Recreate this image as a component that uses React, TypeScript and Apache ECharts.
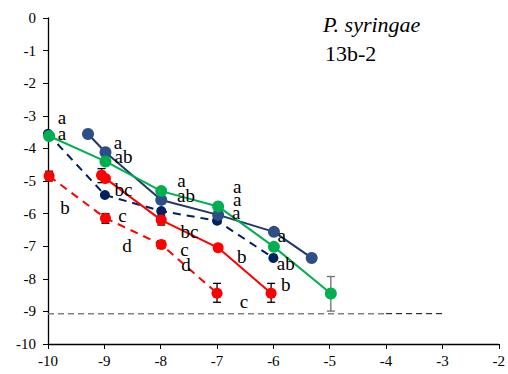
import React, { useEffect, useRef } from "react";
import * as echarts from "echarts";

const navySolid: [number, number][] = [[-9.29, -3.56], [-8.98, -4.12], [-7.99, -5.58], [-6.98, -6.04], [-5.99, -6.56], [-5.32, -7.36]];
const navyDashed: [number, number][] = [[-10, -3.55], [-8.99, -5.43], [-7.99, -5.92], [-7.0, -6.22], [-6.0, -7.36]];
const greenSolid: [number, number][] = [[-9.98, -3.62], [-8.98, -4.4], [-7.99, -5.31], [-6.98, -5.78], [-5.99, -7.02], [-4.98, -8.45]];
const redSolid: [number, number][] = [[-9.05, -4.82], [-8.98, -4.92], [-7.99, -6.2], [-6.98, -7.05], [-6.04, -8.44]];
const redDashed: [number, number][] = [[-9.98, -4.85], [-8.98, -6.14], [-7.99, -6.95], [-7.0, -8.44]];
const detectionLimitGray: [number, number][] = [[-10, -9.07], [-4, -9.07]];
const detectionLimitBlack: [number, number][] = [[-4, -9.07], [-3, -9.07]];

// [x, low, high]
const redErr: [number, number, number][] = [
  [-9.98, -5.0, -4.7], [-8.98, -6.3, -6.0], [-7.99, -7.07, -6.83], [-7.0, -8.72, -8.14],
  [-9.05, -5.05, -4.62], [-7.99, -6.35, -6.05], [-6.98, -7.15, -6.95], [-6.04, -8.72, -8.14],
];
const greenErr: [number, number, number][] = [[-4.98, -8.99, -7.93]];

// [x, y, letter]
const letters: [number, number, string][] = [
  [-9.75, -3.04, "a"], [-9.75, -3.53, "a"], [-9.7, -5.8, "b"],
  [-8.76, -3.83, "a"], [-8.66, -4.26, "ab"], [-8.66, -5.25, "bc"], [-8.68, -6.07, "c"], [-8.6, -6.99, "d"],
  [-7.63, -4.97, "a"], [-7.55, -5.43, "ab"], [-7.49, -6.56, "bc"], [-7.58, -7.09, "c"], [-7.55, -7.55, "d"],
  [-6.64, -5.18, "a"], [-6.64, -5.58, "a"], [-6.66, -5.98, "a"], [-6.56, -7.33, "b"], [-6.52, -8.71, "c"],
  [-5.85, -6.66, "a"], [-5.78, -7.52, "ab"], [-5.78, -8.19, "b"],
];

const xTicks = [-10, -9, -8, -7, -6, -5, -4, -3, -2];
const titleLines = ["P. syringae", "13b-2"];

const FONT = "'Liberation Serif', 'Times New Roman', serif";

function errSeries(data: [number, number, number][], color: string) {
  return {
    type: "custom",
    data,
    z: 1,
    silent: true,
    renderItem: (_p: any, api: any) => {
      const x = api.value(0);
      const lo = api.coord([x, api.value(1)]);
      const hi = api.coord([x, api.value(2)]);
      const w = 4;
      const style = { stroke: color, lineWidth: 1.3 };
      return {
        type: "group",
        children: [
          { type: "line", shape: { x1: lo[0], y1: lo[1], x2: hi[0], y2: hi[1] }, style },
          { type: "line", shape: { x1: lo[0] - w, y1: lo[1], x2: lo[0] + w, y2: lo[1] }, style },
          { type: "line", shape: { x1: hi[0] - w, y1: hi[1], x2: hi[0] + w, y2: hi[1] }, style },
        ],
      };
    },
  };
}

function lineSeries(data: [number, number][], line: string, marker: string, dashed: boolean, size: number) {
  return {
    type: "line",
    data,
    z: 3,
    symbol: "circle",
    symbolSize: size,
    lineStyle: { color: line, width: 2, type: dashed ? [8, 6] : "solid" },
    itemStyle: { color: marker, borderWidth: 0 },
  };
}

export default function App() {
  const ref = useRef<HTMLDivElement>(null);
  useEffect(() => {
    document.body.style.margin = "0";
    if (!ref.current) return;
    const chart = echarts.init(ref.current, null, { renderer: "svg" });
    const titleGraphics = [
      { type: "text", x: 323, y: 24, z: 10, style: { text: titleLines[0], font: `italic 22px ${FONT}`, fill: "#000", verticalAlign: "middle" } },
      { type: "text", x: 325, y: 53, z: 10, style: { text: titleLines[1], font: `22px ${FONT}`, fill: "#000", verticalAlign: "middle" } },
    ];
    chart.setOption({
      animation: false,
      backgroundColor: "#ffffff",
      grid: { left: 48, right: 7, top: 18, bottom: 30 },
      xAxis: {
        type: "value", min: -10, max: -2, interval: 1,
        axisLine: { onZero: false, lineStyle: { color: "#000", width: 1.3 } },
        axisTick: { length: 5, lineStyle: { color: "#000" } },
        splitLine: { show: false },
        axisLabel: {
          color: "#000", fontFamily: FONT, fontSize: 15, margin: 9, showMaxLabel: true, showMinLabel: true,
          formatter: (v: number) => (xTicks.includes(v) ? String(v) : ""),
        },
      },
      yAxis: {
        type: "value", min: -10, max: 0, interval: 1,
        axisLine: { show: true, onZero: false, lineStyle: { color: "#000", width: 1.3 } },
        axisTick: { show: true, length: 5, lineStyle: { color: "#000" } },
        splitLine: { show: false },
        axisLabel: { color: "#000", fontFamily: FONT, fontSize: 15, margin: 12 },
      },
      graphic: titleGraphics,
      series: [
        { type: "line", data: detectionLimitGray, symbol: "none", z: 0, lineStyle: { color: "#7f7f7f", width: 1.5, type: [6, 4] } },
        { type: "line", data: detectionLimitBlack, symbol: "none", z: 0, lineStyle: { color: "#000", width: 1, type: [6, 4] } },
        errSeries(redErr, "#000"),
        errSeries(greenErr, "#6d6d6d"),
        lineSeries(redDashed, "#ff0000", "#ff0000", true, 11),
        lineSeries(navyDashed, "#002060", "#002060", true, 10),
        lineSeries(redSolid, "#ff0000", "#ff0000", false, 11),
        lineSeries(navySolid, "#1f3864", "#2e4f86", false, 12),
        lineSeries(greenSolid, "#00b050", "#00b050", false, 12),
      ],
    });
    const letterGraphics = letters.map(([x, y, t]) => {
      const p = chart.convertToPixel({ gridIndex: 0 }, [x, y]) as number[];
      return {
        type: "text", x: p[0], y: p[1], z: 10,
        style: { text: t, font: `19px ${FONT}`, fill: "#000", align: "center", verticalAlign: "middle" },
      };
    });
    chart.setOption({ graphic: [...titleGraphics, ...letterGraphics] }, { replaceMerge: ["graphic"] });
    return () => chart.dispose();
  }, []);
  return <div ref={ref} style={{ width: 508, height: 374 }} />;
}
